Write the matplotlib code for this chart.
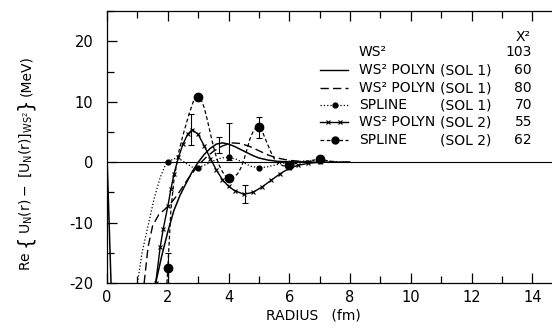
#!/usr/bin/env python3

import matplotlib
matplotlib.use("Agg")
import matplotlib.pyplot as plt
from matplotlib.ticker import MultipleLocator

plt.rcParams["font.family"] = ["DejaVu Sans"]
plt.rcParams["mathtext.fontset"] = "dejavusans"

# WS^2 POLYN (SOL 1), solid
r_poly1 = [1.6, 1.8, 2.0, 2.2, 2.4, 2.6, 2.8, 3.0, 3.2, 3.4, 3.6, 3.8, 4.0, 4.2, 4.4, 4.6,
           4.8, 5.0, 5.3, 5.6, 6.0, 6.5, 7.0, 8.0]
v_poly1 = [-20, -15.5, -11.5, -8, -5.5, -3.5, -1.6, 0, 1.3, 2.3, 3.0, 3.2, 3.0, 2.6, 2.1, 1.6,
           1.1, 0.7, 0.35, 0.15, 0.05, 0, 0, 0]

# WS^2 POLYN (SOL 1), dashed
r_poly1d = [1.22, 1.35, 1.5, 1.7, 1.9, 2.1, 2.3, 2.5, 2.7, 2.9, 3.1, 3.3, 3.5, 3.8, 4.1, 4.4,
            4.7, 5.0, 5.3, 5.6, 6.0, 6.5, 7.0, 8.0]
v_poly1d = [-20, -14, -10.5, -8.7, -7.8, -6.8, -5.5, -4.0, -2.5, -1.2, 0, 1.0, 1.8, 2.7, 3.2, 3.1,
            2.6, 1.9, 1.2, 0.7, 0.3, 0.1, 0, 0]

# steep piece next to r = 0
r_origin = [0.0, 0.13]
v_origin = [0.5, -20]

# SPLINE (SOL 1), dotted
r_spl1 = [1.0, 1.15, 1.35, 1.55, 1.75, 1.9, 2.0, 2.2, 2.4, 2.6, 2.8, 3.0, 3.25, 3.5, 3.75, 4.0,
          4.25, 4.5, 4.75, 5.0, 5.25, 5.5, 5.75, 6.0, 6.5, 7.0, 7.5, 8.0]
v_spl1 = [-20, -15, -10.5, -6, -2.5, -0.7, 0, 0.6, 0.5, -0.2, -0.8, -0.9, -0.4, 0.2, 0.7, 0.8,
          0.5, -0.1, -0.7, -0.9, -0.8, -0.5, -0.2, 0, 0.2, 0.3, 0.1, 0]
r_spl1_knots = [2, 3, 4, 5]
v_spl1_knots = [0, -0.9, 0.8, -0.9]

# WS^2 POLYN (SOL 2), -x-x-
r_poly2 = [1.6, 1.75, 1.85, 2.0, 2.1, 2.2, 2.35, 2.5, 2.65, 2.8, 3.0, 3.2, 3.4, 3.6, 3.8, 4.0,
           4.2, 4.5, 4.8, 5.1, 5.4, 5.7, 6.0, 6.3, 6.6, 7.0]
v_poly2 = [-20, -14, -11, -7.3, -4.5, -2, 0.8, 3, 4.6, 5.4, 4.6, 2.7, 0.6, -1.3, -2.9, -4,
           -4.7, -5.3, -5.0, -4.1, -3.0, -1.9, -1.0, -0.5, -0.2, 0]

# SPLINE (SOL 2), dashed with knots
r_spl2 = [1.97, 2.0, 2.1, 2.2, 2.35, 2.5, 2.7, 2.85, 3.0, 3.1, 3.2, 3.3, 3.4, 3.5, 3.6, 3.7,
          3.8, 3.9, 4.0, 4.1, 4.2, 4.3, 4.4, 4.5, 4.6, 4.7, 4.8, 4.9, 5.0, 5.1, 5.2, 5.3,
          5.4, 5.5, 5.6, 5.8, 6.0, 6.3, 6.6, 7.0, 7.3, 7.6]
v_spl2 = [-20, -17.5, -8, -3, 1.5, 4.5, 8, 10.2, 10.8, 10.3, 9, 7, 4.8, 2.6, 0.8, -0.6,
          -1.6, -2.3, -2.6, -2.6, -2.4, -1.9, -1.0, 0.3, 2.0, 3.8, 5.0, 5.7, 5.8, 5.2, 4.0, 2.8,
          1.6, 0.6, -0.1, -0.6, -0.5, -0.1, 0.2, 0.5, 0.2, 0]
r_spl2_knots = [2, 3, 4, 5, 6, 7]
v_spl2_knots = [-17.5, 10.8, -2.6, 5.8, -0.5, 0.5]

# error bars
r_err = [2.0, 2.77, 3.7, 4.02, 4.53, 5.0]
v_err = [-17.5, 5.35, 2.8, 3.4, -5.3, 5.7]
e_err = [2.5, 2.55, 1.3, 3.1, 1.5, 1.7]

# legend table
leg_names = ["WS² POLYN", "WS² POLYN", "SPLINE", "WS² POLYN", "SPLINE"]
leg_sols = ["(SOL 1)", "(SOL 1)", "(SOL 1)", "(SOL 2)", "(SOL 2)"]
leg_chi2 = ["60", "80", "70", "55", "62"]
ws2_chi2 = "103"

# y label pieces, bottom to top
ylab_parts = ["Re ", "{", r"$\mathregular{U_N(r)-\ [U_N(r)]_{WS^2}}$", "}", "(MeV)"]
ylab_sizes = [10, 14, 10, 14, 10]

fig = plt.figure(figsize=(5.52, 3.28), dpi=100)
ax = fig.add_axes([0.194, 0.137, 0.806, 0.829])

k = dict(color="black")
ax.axhline(0, color="black", lw=0.8)
ax.plot(r_poly1, v_poly1, ls="-", lw=1.1, **k)
ax.plot(r_poly1d, v_poly1d, ls=(0, (6, 3)), lw=1.0, **k)
ax.plot(r_origin, v_origin, ls="-", lw=1.1, **k)
ax.plot(r_spl1, v_spl1, ls=":", lw=0.9, **k)
ax.plot(r_spl1_knots, v_spl1_knots, "o", ms=3.5, **k)
ax.plot(r_poly2, v_poly2, ls="-", lw=1.0, marker="x", ms=3, mew=0.8, **k)
ax.plot(r_spl2, v_spl2, ls=(0, (3, 2)), lw=0.9, **k)
ax.plot(r_spl2_knots, v_spl2_knots, "o", ms=6, **k)
ax.errorbar(r_err, v_err, yerr=e_err, fmt="none", ecolor="black", elinewidth=0.8,
            capsize=2.5, capthick=0.8)

ax.set_xlim(0, 14.65)
ax.set_ylim(-20, 25)
ax.xaxis.set_minor_locator(MultipleLocator(1))
ax.yaxis.set_minor_locator(MultipleLocator(5))
ax.tick_params(which="both", direction="in", top=True, right=False, labelsize=10.5, width=0.9)
ax.tick_params(which="major", length=7)
ax.tick_params(which="minor", length=5)
ax.tick_params(axis="x", pad=5)
ax.tick_params(axis="y", pad=10)
ax.spines["right"].set_visible(False)
for s in ["left", "top", "bottom"]:
    ax.spines[s].set_linewidth(0.9)
ax.set_xticks(range(0, 15, 2))
ax.set_xticklabels([str(t) for t in range(0, 15, 2)])
ax.set_yticks([-20, -10, 0, 10, 20])
ax.set_yticklabels(["-20", "-10", "0", "10", "20"])

ax.set_xlabel("RADIUS   (fm)", fontsize=10)
ax.xaxis.set_label_coords(0.463, -0.095)

# y label stacked from pieces so the braces can be big
renderer = fig.canvas.get_renderer()
W, H = fig.bbox.width, fig.bbox.height
ypix = 270
for part, size in zip(ylab_parts, ylab_sizes):
    xpix = 25 if size > 10 else 26
    t = fig.text(xpix / W, 1 - ypix / H, part, rotation=90, fontsize=size,
                 ha="center", va="bottom")
    ext = t.get_window_extent(renderer)
    ypix -= ext.height + 1

# hand-made legend
tr = ax.transAxes
fs = 10
ax.text(0.935, 0.905, "X²", transform=tr, fontsize=fs, ha="center", va="center")
ax.text(0.566, 0.849, "WS²", transform=tr, fontsize=fs, ha="left", va="center")
ax.text(0.955, 0.849, ws2_chi2, transform=tr, fontsize=fs, ha="right", va="center")
rows_y = [0.783, 0.717, 0.654, 0.592, 0.526]
styles = [
    dict(ls="-", lw=1.0),
    dict(ls=(0, (6, 3)), lw=1.0),
    dict(ls=":", lw=0.9),
    dict(ls="-", lw=1.0),
    dict(ls=(0, (3, 2)), lw=0.9),
]
for i, y in enumerate(rows_y):
    ax.plot([0.479, 0.542], [y, y], transform=tr, color="black", **styles[i])
    if i == 2:
        ax.plot([0.512], [y], "o", ms=3.5, color="black", transform=tr)
    if i == 3:
        ax.plot([0.497, 0.524], [y, y], "x", ms=3, mew=0.8, color="black", transform=tr)
    if i == 4:
        ax.plot([0.512], [y], "o", ms=5, color="black", transform=tr)
    ax.text(0.566, y, leg_names[i], transform=tr, fontsize=fs, ha="left", va="center")
    ax.text(0.748, y, leg_sols[i], transform=tr, fontsize=fs, ha="left", va="center")
    ax.text(0.955, y, leg_chi2[i], transform=tr, fontsize=fs, ha="right", va="center")

fig.savefig("out.png", dpi=100)
